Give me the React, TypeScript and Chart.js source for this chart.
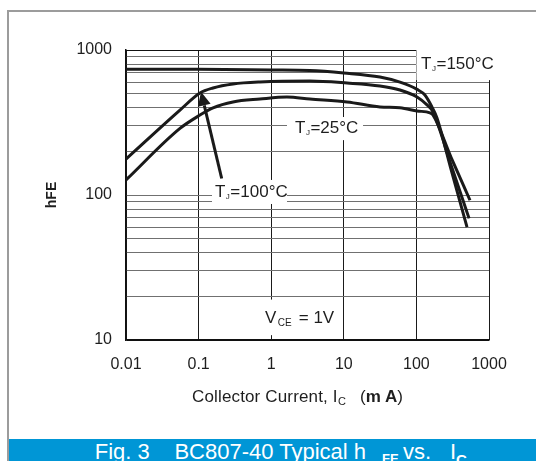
import React, { useEffect, useRef } from "react";
import { Chart, registerables } from "chart.js";

Chart.register(...registerables);

const FONT = '"Liberation Sans", Arial, Helvetica, sans-serif';

// ---- data ----
const xTickValues = [0.01, 0.1, 1, 10, 100, 1000];
const xTickLabels = ["0.01", "0.1", "1", "10", "100", "1000"];
const yTickValues = [10, 20, 30, 40, 50, 60, 70, 80, 90, 100, 200, 300, 400, 500, 600, 700, 800, 900, 1000];
const yLabelValues = [10, 100, 1000];
const yLabelTexts = ["10", "100", "1000"];

const ic150 = [0.01, 0.1, 1, 3.4, 10, 31.5, 59.4, 102, 131, 164, 192, 300, 498];
const hfe150 = [736, 736, 728, 722, 694, 651, 600, 535, 489, 404, 340, 150, 60];

const ic100 = [0.01, 0.0554, 0.1045, 0.158, 0.298, 0.7, 3.42, 11.1, 31.5, 59.4, 102, 140, 169, 300, 531];
const hfe100 = [177, 385, 505, 547, 583, 602, 611, 592, 565, 530, 474, 418, 374, 161, 69];

const ic25 = [0.01, 0.0554, 0.1045, 0.158, 0.298, 0.7, 1.65, 3.42, 11.1, 31.5, 59.4, 102, 154, 169, 300, 547];
const hfe25 = [127, 288, 356, 399, 438, 459, 474, 459, 438, 405, 399, 380, 368, 356, 182, 92];

// annotation label backgrounds (data coordinates)
const labelBoxes = [
  { x0: 100, x1: 1100, y0: 1040, y1: 620 },
  { x0: 1.65, x1: 18.4, y0: 345, y1: 239 },
  { x0: 0.153, x1: 1.65, y0: 127, y1: 86.7 },
  { x0: 0.74, x1: 8.87, y0: 19.0, y1: 10.8 },
];

// [text, fontSize, baselineShift, gapBefore]
type Part = [string, number, number, number];
const annotationLabels: { x: number; y: number; parts: Part[] }[] = [
  { x: 116, y: 734, parts: [["T", 17, 0, 0], ["J", 8, 2, 0.5], ["=150°C", 17, 0, 0.5]] },
  { x: 2.13, y: 266, parts: [["T", 17, 0, 0], ["J", 8, 2, 0.5], ["=25°C", 17, 0, 0.5]] },
  { x: 0.168, y: 97.3, parts: [["T", 17, 0, 0], ["J", 8, 2, 0.5], ["=100°C", 17, 0, 0.5]] },
  { x: 0.822, y: 13.2, parts: [["V", 17, 0, 0], ["CE", 10, 3, 1.5], ["= 1V", 17, 0, 7]] },
];

const arrowFrom = { x: 0.208, y: 130 };
const arrowTo = { x: 0.108, y: 516 };

const zip = (xs: number[], ys: number[]) => xs.map((x, i) => ({ x, y: ys[i] }));

const annotPlugin = {
  id: "annots",
  beforeDatasetsDraw(chart: any) {
    const { ctx, scales } = chart;
    const xs = scales.x, ys = scales.y;
    ctx.save();
    ctx.fillStyle = "#ffffff";
    for (const b of labelBoxes) {
      const a = xs.getPixelForValue(b.x0), c = xs.getPixelForValue(b.x1);
      const p = ys.getPixelForValue(b.y0), q = ys.getPixelForValue(b.y1);
      ctx.fillRect(Math.min(a, c), Math.min(p, q), Math.abs(c - a), Math.abs(q - p));
    }
    ctx.restore();
  },
  afterDatasetsDraw(chart: any) {
    const { ctx, scales } = chart;
    const xs = scales.x, ys = scales.y;
    ctx.save();
    ctx.fillStyle = "#1e1e1e";
    ctx.textBaseline = "alphabetic";
    ctx.textAlign = "left";
    for (const l of annotationLabels) {
      let px = xs.getPixelForValue(l.x);
      const py = ys.getPixelForValue(l.y);
      for (const [t, size, dy, gap] of l.parts) {
        px += gap;
        ctx.font = `${size}px ${FONT}`;
        ctx.fillText(t, px, py + dy);
        px += ctx.measureText(t).width;
      }
    }
    // arrow
    const x1 = xs.getPixelForValue(arrowFrom.x), y1 = ys.getPixelForValue(arrowFrom.y);
    const x2 = xs.getPixelForValue(arrowTo.x), y2 = ys.getPixelForValue(arrowTo.y);
    const ang = Math.atan2(y2 - y1, x2 - x1);
    const headLen = 14, headW = 6.5;
    const bx = x2 - headLen * Math.cos(ang), by = y2 - headLen * Math.sin(ang);
    ctx.strokeStyle = "#1a1a1a";
    ctx.lineWidth = 3;
    ctx.beginPath();
    ctx.moveTo(x1, y1);
    ctx.lineTo(bx, by);
    ctx.stroke();
    ctx.fillStyle = "#1a1a1a";
    ctx.beginPath();
    ctx.moveTo(x2, y2);
    ctx.lineTo(bx + headW * Math.sin(ang), by - headW * Math.cos(ang));
    ctx.lineTo(bx - headW * Math.sin(ang), by + headW * Math.cos(ang));
    ctx.closePath();
    ctx.fill();
    ctx.restore();
  },
};

function BT(props: { x: number; base: number; size: number; bold?: boolean; color?: string; ls?: number; children: any }) {
  const { x, base, size, bold, color, ls, children } = props;
  return (
    <span
      style={{
        position: "absolute",
        left: x,
        top: base - 0.8465 * size,
        fontFamily: FONT,
        fontSize: size,
        lineHeight: `${size}px`,
        fontWeight: bold ? 700 : 400,
        whiteSpace: "pre",
        color: color || "#1e1e1e",
        letterSpacing: ls || 0,
      }}
    >
      {children}
    </span>
  );
}

export default function App() {
  const canvasRef = useRef<HTMLCanvasElement | null>(null);

  useEffect(() => {
    const canvas = canvasRef.current;
    if (!canvas) return;
    const lineStyle = {
      borderColor: "#1a1a1a",
      borderWidth: 3,
      pointRadius: 0,
      fill: false,
      cubicInterpolationMode: "monotone" as const,
    };
    const chart = new Chart(canvas, {
      type: "line",
      data: {
        datasets: [
          { label: "TJ=150°C", data: zip(ic150, hfe150), ...lineStyle },
          { label: "TJ=100°C", data: zip(ic100, hfe100), ...lineStyle },
          { label: "TJ=25°C", data: zip(ic25, hfe25), ...lineStyle },
        ],
      },
      options: {
        animation: false,
        responsive: false,
        devicePixelRatio: 1,
        layout: { padding: { left: 0, right: 47, top: 50, bottom: 81 } },
        plugins: { legend: { display: false }, tooltip: { enabled: false } },
        scales: {
          x: {
            type: "logarithmic",
            min: 0.01,
            max: 1000,
            afterBuildTicks: (s: any) => {
              s.ticks = xTickValues.map((v) => ({ value: v }));
            },
            afterFit: (s: any) => {
              s.height = 40;
            },
            ticks: {
              autoSkip: false,
              maxRotation: 0,
              padding: 15,
              color: "#1e1e1e",
              font: { family: FONT, size: 16 },
              callback: (_v: any, i: number) => xTickLabels[i],
            },
            grid: { color: "#1a1a1a", lineWidth: 1, drawTicks: false },
            border: { color: "#111", width: 1.5 },
          },
          y: {
            type: "logarithmic",
            min: 10,
            max: 1000,
            afterBuildTicks: (s: any) => {
              s.ticks = yTickValues.map((v) => ({ value: v }));
            },
            afterFit: (s: any) => {
              s.width = 126;
            },
            ticks: {
              autoSkip: false,
              padding: 14,
              color: "#1e1e1e",
              font: { family: FONT, size: 16 },
              callback: (v: any) => {
                const k = yLabelValues.indexOf(Number(v));
                return k >= 0 ? yLabelTexts[k] : "";
              },
            },
            grid: {
              drawTicks: false,
              lineWidth: 1,
              color: (c: any) =>
                c.tick && (c.tick.value === 1000 || c.tick.value === 10) ? "#111" : "#707070",
            },
            border: { color: "#111", width: 1.5 },
            title: {
              display: true,
              text: "hFE",
              color: "#1e1e1e",
              font: { family: FONT, size: 14, weight: "bold" },
              padding: { top: 44, bottom: 0 },
            },
          },
        },
      },
      plugins: [annotPlugin],
    });
    return () => chart.destroy();
  }, []);

  return (
    <div style={{ position: "absolute", left: 0, top: 0, width: 536, height: 461, overflow: "hidden", background: "#fff" }}>
      <div
        style={{
          position: "absolute",
          left: 7,
          top: 10,
          width: 620,
          height: 600,
          border: "2px solid #9c9c9c",
          boxSizing: "border-box",
        }}
      />
      <canvas ref={canvasRef} width={536} height={461} style={{ position: "absolute", left: 0, top: 0, width: 536, height: 461 }} />
      {/* x-axis title */}
      <BT x={192} base={402.3} size={17} ls={0.15}>Collector Current, I</BT>
      <BT x={338} base={405.5} size={11}>C</BT>
      <span style={{ position: "absolute", left: 360, top: 402.3 - 0.8465 * 17, fontFamily: FONT, fontSize: 17, lineHeight: "17px", whiteSpace: "pre", color: "#1e1e1e" }}>
        (<b>m A</b>)
      </span>
      {/* banner */}
      <div style={{ position: "absolute", left: 9, top: 439, width: 527, height: 22, background: "#0096d6" }} />
      <BT x={94.7} base={459.5} size={22} color="#fff">Fig. 3</BT>
      <BT x={174.4} base={459.5} size={22} color="#fff">BC807-40 Typical h</BT>
      <BT x={382} base={463} size={13} bold color="#fff">FE</BT>
      <BT x={403} base={459.5} size={22} color="#fff">vs.</BT>
      <BT x={450} base={459.5} size={22} color="#fff">I</BT>
      <BT x={456} base={465} size={15} bold color="#fff">C</BT>
    </div>
  );
}
